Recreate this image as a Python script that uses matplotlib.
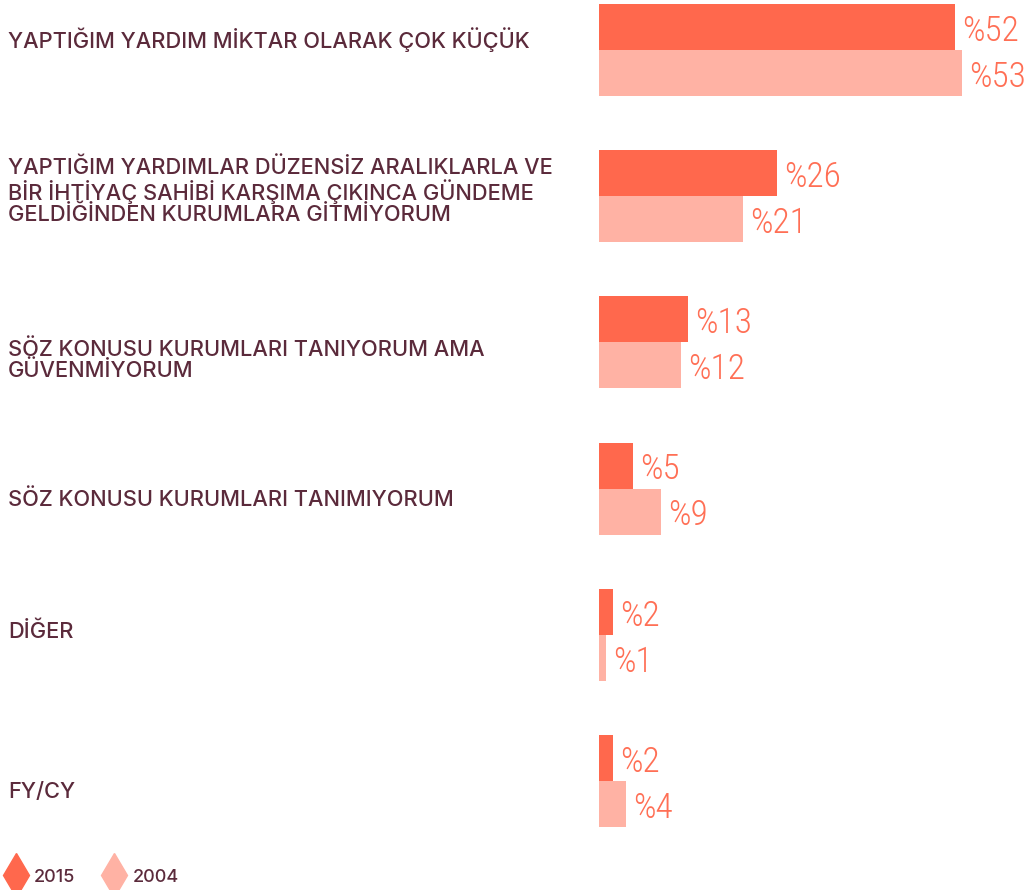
import matplotlib.pyplot as plt
from matplotlib.lines import Line2D

categories = [
    'YAPTIĞIM YARDIM MİKTAR OLARAK ÇOK KÜÇÜK',
    'YAPTIĞIM YARDIMLAR DÜZENSİZ ARALIKLARLA VE\nBİR İHTİYAÇ SAHİBİ KARŞIMA ÇIKINCA GÜNDEME\nGELDİĞİNDEN KURUMLARA GİTMİYORUM',
    'SÖZ KONUSU KURUMLARI TANIYORUM AMA\nGÜVENMİYORUM',
    'SÖZ KONUSU KURUMLARI TANIMIYORUM',
    'DİĞER',
    'FY/CY',
]
values_2015 = [52, 26, 13, 5, 2, 2]
values_2004 = [53, 21, 12, 9, 1, 4]
series_names = ['2015', '2004']

c2015 = '#FF684D'
c2004 = '#FFB2A4'
text_col = '#5B2A3B'

W, H = 1025, 890
fig = plt.figure(figsize=(W / 100, H / 100), dpi=100)

# axes start where bars start (x=599px), full height
x0 = 599
px_per_pct = 6.85
ax = fig.add_axes([x0 / W, 0, (W - x0) / W, 1])
ax.set_xlim(0, (W - x0) / px_per_pct)
step = 146.2  # px between groups
top = 50      # px of first group center
ax.set_ylim((H - top) / step, -top / step)
ax.axis('off')

bh = 46 / step
ys = list(range(len(categories)))
ax.barh([y - bh / 2 for y in ys], values_2015, height=bh, color=c2015)
ax.barh([y + bh / 2 for y in ys], values_2004, height=bh, color=c2004)

vfont = dict(family=['Roboto Condensed', 'DejaVu Sans'], fontstretch='condensed',
             fontweight='light', fontsize=25.5,
             color='#FF6F55', va='center', ha='left')
for y, v in zip(ys, values_2015):
    ax.annotate('%' + str(v), (v, y - bh / 2), xytext=(7, -4),
                textcoords='offset pixels', **vfont)
for y, v in zip(ys, values_2004):
    ax.annotate('%' + str(v), (v, y + bh / 2), xytext=(7, -4),
                textcoords='offset pixels', **vfont)

# category labels on the left
label_y = [40, 191, 360, 500, 632, 792]
for lab, yp in zip(categories, label_y):
    fig.text(8 / W, 1 - yp / H, lab, ha='left', va='center', fontsize=15.7,
             family='Inter', fontweight='medium', color=text_col, linespacing=1.04)

handles = [Line2D([], [], marker='d', ls='none', color=c2015, markersize=22),
           Line2D([], [], marker='d', ls='none', color=c2004, markersize=22)]
fig.legend(handles, series_names, loc='center left', bbox_to_anchor=(7 / W, 1 - 877 / H),
           ncol=2, frameon=False, handletextpad=0.5, columnspacing=1.65,
           prop={'family': 'Inter', 'weight': 'medium', 'size': 13}, labelcolor=text_col,
           handlelength=1.0, borderaxespad=0, borderpad=0)

fig.savefig('out.png', dpi=100)
